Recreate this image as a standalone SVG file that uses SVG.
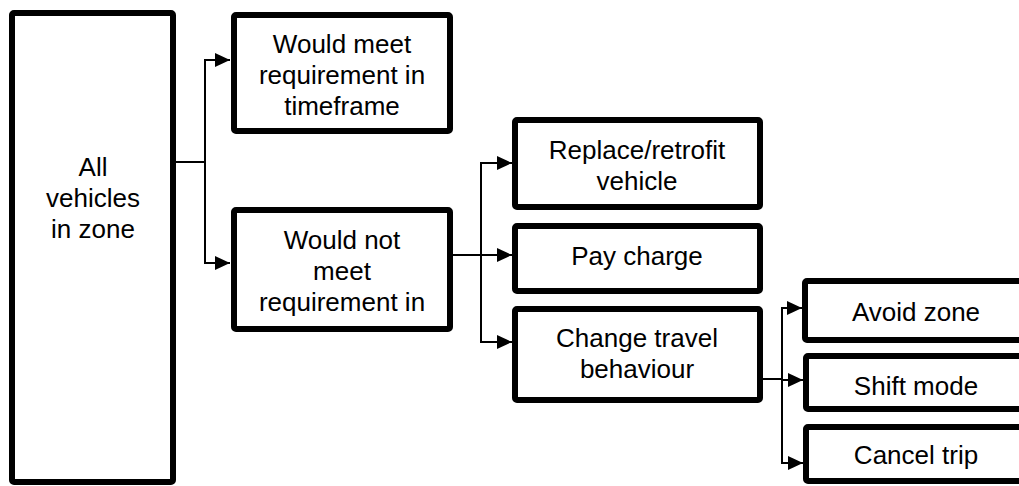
<svg xmlns="http://www.w3.org/2000/svg" width="1019" height="486" viewBox="0 0 1019 486">
<style>
.box{fill:#fff;stroke:#000;stroke-width:6;stroke-linejoin:round}
.t{font-family:"Liberation Sans",Arial,sans-serif;font-size:26px;fill:#000;text-anchor:middle}
.c{fill:none;stroke:#000;stroke-width:2}
</style>
<defs>
<marker id="ah" markerUnits="userSpaceOnUse" markerWidth="16" markerHeight="16" viewBox="0 0 16 16" refX="15" refY="8" orient="auto">
<path d="M0 1 L15 8 L0 15 Z" fill="#000"/>
</marker>
</defs>
<rect width="1019" height="486" fill="#fff"/>
<g id="connectors">
<path class="c" d="M176 162 H205"/>
<path class="c" d="M205 162 V60 H230" marker-end="url(#ah)"/>
<path class="c" d="M205 162 V263 H230" marker-end="url(#ah)"/>
<path class="c" d="M453 255 H481"/>
<path class="c" d="M481 255 V163 H512" marker-end="url(#ah)"/>
<path class="c" d="M481 255 H512" marker-end="url(#ah)"/>
<path class="c" d="M481 255 V342 H512" marker-end="url(#ah)"/>
<path class="c" d="M763 379 H782"/>
<path class="c" d="M782 379 V308 H802" marker-end="url(#ah)"/>
<path class="c" d="M782 379 V380 H803" marker-end="url(#ah)"/>
<path class="c" d="M782 379 V463 H803" marker-end="url(#ah)"/>
</g>
<g id="all">
<rect class="box" x="12" y="13" width="161" height="469" rx="2"/>
<text class="t" x="93" y="176">All</text>
<text class="t" x="93" y="207">vehicles</text>
<text class="t" x="93" y="238">in zone</text>
</g>
<g id="meet">
<rect class="box" x="234" y="15" width="216" height="116" rx="2"/>
<text class="t" x="342" y="53">Would meet</text>
<text class="t" x="342" y="84">requirement in</text>
<text class="t" x="342" y="115">timeframe</text>
</g>
<g id="notmeet">
<rect class="box" x="234" y="210" width="216" height="119" rx="2"/>
<text class="t" x="342" y="249">Would not</text>
<text class="t" x="342" y="280">meet</text>
<text class="t" x="342" y="311">requirement in</text>
</g>
<g id="replace">
<rect class="box" x="515" y="120" width="245" height="87" rx="2"/>
<text class="t" x="637" y="159">Replace/retrofit</text>
<text class="t" x="637" y="190">vehicle</text>
</g>
<g id="pay">
<rect class="box" x="515" y="226" width="245" height="65" rx="2"/>
<text class="t" x="637" y="265">Pay charge</text>
</g>
<g id="change">
<rect class="box" x="515" y="309" width="245" height="91" rx="2"/>
<text class="t" x="637" y="347">Change travel</text>
<text class="t" x="637" y="378">behaviour</text>
</g>
<g id="avoid">
<rect class="box" x="805" y="281" width="230" height="59" rx="2"/>
<text class="t" x="916" y="321">Avoid zone</text>
</g>
<g id="shift">
<rect class="box" x="806" y="356" width="230" height="53" rx="2"/>
<text class="t" x="916" y="395">Shift mode</text>
</g>
<g id="cancel">
<rect class="box" x="806" y="427" width="230" height="54" rx="2"/>
<text class="t" x="916" y="464">Cancel trip</text>
</g>
</svg>
